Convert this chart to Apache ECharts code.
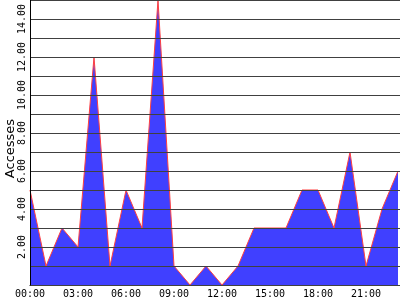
<!DOCTYPE html>
<html>
<head>
<meta charset="utf-8">
<script src="https://cdn.jsdelivr.net/npm/echarts@6/dist/echarts.min.js"></script>
<style>html,body{margin:0;padding:0;background:#fff}#c{width:400px;height:300px}</style>
</head>
<body>
<div id="c"></div>
<script>
var hours = [0,1,2,3,4,5,6,7,8,9,10,11,12,13,14,15,16,17,18,19,20,21,22,23];
var accesses = [5,1,3,2,12,1,5,3,15,1,0,1,0,1,3,3,3,5,5,3,7,1,4,6];
var xTickLabels = ['00:00','03:00','06:00','09:00','12:00','15:00','18:00','21:00'];
var yTitle = 'Accesses';

var chart = echarts.init(document.getElementById('c'), null, {renderer:'canvas'});
var pts = hours.map(function(h,i){return [h, accesses[i]];});
chart.setOption({
  animation:false,
  backgroundColor:'#ffffff',
  grid:{left:30, right:-14, top:0, bottom:15, containLabel:false, outerBoundsMode:'none'},
  xAxis:{
    type:'value', min:0, max:24, interval:3,
    axisLine:{show:true, onZero:false, lineStyle:{color:'#000', width:1}},
    axisTick:{show:false},
    splitLine:{show:false},
    axisLabel:{
      margin:4, color:'#000', fontFamily:'DejaVu Sans Mono', fontSize:10,
      showMaxLabel:false, hideOverlap:false,
      formatter:function(v){var i=Math.round(v/3);return xTickLabels[i]||'';}
    }
  },
  yAxis:{
    type:'value', min:0, max:15, interval:1, z:5,
    name:yTitle, nameLocation:'middle', nameRotate:90, nameGap:13, nameMoveOverlap:false,
    nameTextStyle:{color:'#000', fontFamily:'DejaVu Sans', fontSize:13, padding:[0,12,0,0]},
    axisLine:{show:true, lineStyle:{color:'#000', width:1}},
    axisTick:{show:false},
    splitLine:{show:true, lineStyle:{color:'#404040', width:1}},
    axisLabel:{
      rotate:90, margin:3, color:'#000', fontFamily:'DejaVu Sans Mono', fontSize:10,
      showMinLabel:false, showMaxLabel:false,
      formatter:function(v){return (v>0 && v<15 && v%2===0)? v.toFixed(2) : '';}
    }
  },
  series:[{
    type:'line', data:pts, symbol:'none', z:2,
    lineStyle:{color:'#ff4040', width:1},
    areaStyle:{color:'#4040ff', opacity:1}
  }]
});
</script>
</body>
</html>
